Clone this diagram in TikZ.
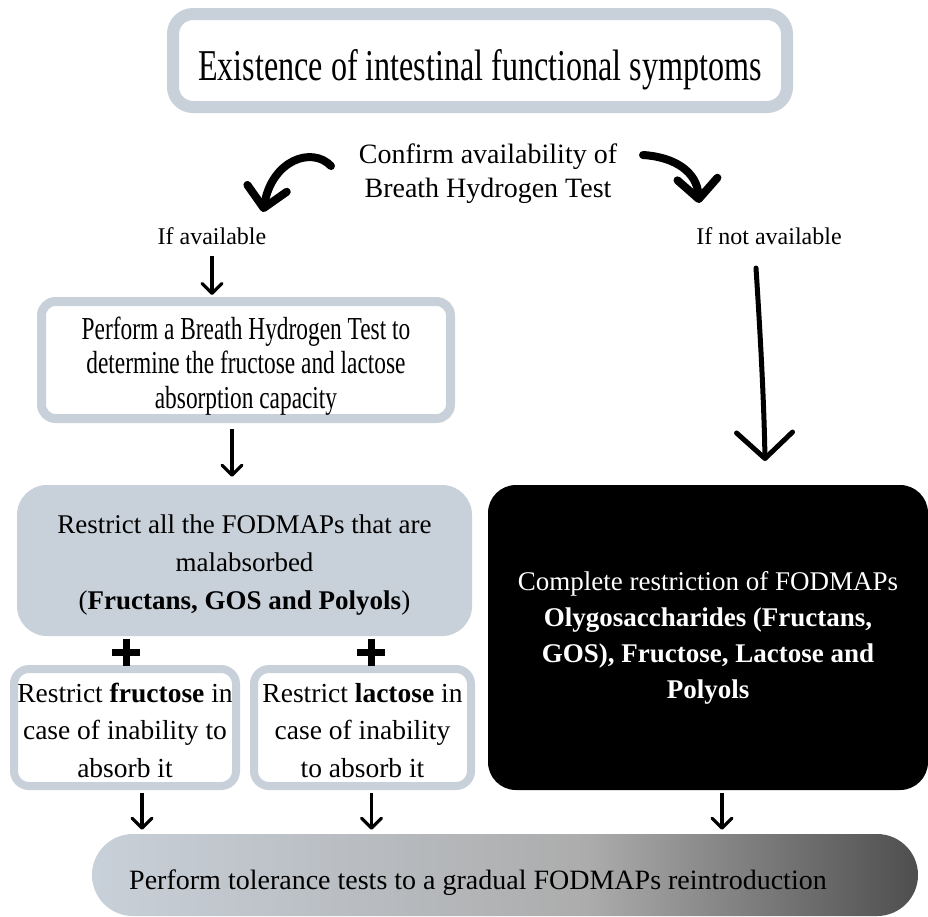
\documentclass[tikz,border=0pt]{standalone}
\usepackage{fontspec}
\setmainfont{Liberation Serif}
\newfontfamily\narrowserif{Liberation Serif}[FakeStretch=0.73]
\usepackage{xcolor}
\usepackage{tikz}
\usetikzlibrary{arrows.meta,positioning,calc}

\definecolor{boxgray}{RGB}{200,208,217}
\definecolor{gradmid}{RGB}{172,172,172}
\definecolor{graddark}{RGB}{78,78,78}
\pgfdeclarehorizontalshading{finalgrad}{100bp}{color(0bp)=(boxgray); color(25bp)=(boxgray); color(55bp)=(gradmid); color(75bp)=(graddark); color(100bp)=(graddark)}

\tikzset{
	outbox/.style={draw=boxgray, line width=8pt, rounded corners=#1, fill=white, align=center},
	thinarrow/.style={line width=3.2pt, -{Straight Barb[length=10pt,width=20pt,round]}},
	curvearrow/.style={line width=8pt, line cap=round, -{Straight Barb[length=20pt,width=40pt,line width=8pt,round]}},
	bigarrow/.style={line width=5pt, line cap=round, -{Straight Barb[length=26pt,width=56pt,line width=5pt,round]}},
	plussign/.style={line width=7pt},
}

\begin{document}
\begin{tikzpicture}[x=1pt,y=-1pt]
	\useasboundingbox (0,0) rectangle (928,916);
	\node[outbox=20, line width=12pt, minimum width=614, minimum height=93, text height=46pt, text depth=7pt, font=\narrowserif\fontsize{44}{50}\selectfont] (top) at (480,60.5) {Existence of intestinal functional symptoms};
	\node[align=center, font=\fontsize{28}{34}\selectfont] (confirm) at (488,174) {Confirm availability of\\Breath Hydrogen Test};
	\node[font=\fontsize{24}{28}\selectfont] (avail) at (212,236) {If available};
	\node[font=\fontsize{24}{28}\selectfont] (notavail) at (769,236) {If not available};
	\node[outbox=14, line width=9pt, minimum width=409, minimum height=117, inner xsep=0, font=\narrowserif\fontsize{32}{34.5}\selectfont] (test) at (246,360) {\rule{0pt}{34pt}Perform a Breath Hydrogen Test to\\determine the fructose and lactose\\absorption capacity};
	\node[fill=boxgray, rounded corners=30, minimum width=455, minimum height=151, align=center, font=\fontsize{27}{38}\selectfont] (restrict) at (244.5,560.5) {\rule{0pt}{28pt}Restrict all the FODMAPs that are\\malabsorbed\\(\textbf{Fructans, GOS and Polyols})};
	\node[outbox=15, minimum width=222, minimum height=117, inner sep=0, font=\fontsize{27.5}{37.5}\selectfont] (fruct) at (125,727.5) {\rule{0pt}{25pt}Restrict \textbf{fructose} in\\case of inability to\\absorb it};
	\node[outbox=15, minimum width=217, minimum height=117, inner sep=0, font=\fontsize{27.5}{37.5}\selectfont] (lact) at (362.5,727.5) {\rule{0pt}{25pt}Restrict \textbf{lactose} in\\case of inability\\to absorb it};
	\node[fill=black, text=white, rounded corners=28, minimum width=440, minimum height=305, align=center, font=\fontsize{27}{36}\selectfont] (full) at (708,637.5) {Complete restriction of FODMAPs\\\textbf{Olygosaccharides (Fructans,}\\\textbf{GOS), Fructose, Lactose and}\\\textbf{Polyols}};
	\node[shade, shading=finalgrad, rounded corners=41, minimum width=826, minimum height=82, inner sep=0] (final) at (505,875) {};
	\node[font=\fontsize{28}{32}\selectfont] (finaltxt) at (478,883) {Perform tolerance tests to a gradual FODMAPs reintroduction};

	\coordinate (plusA) at (126,652);
	\coordinate (plusB) at (371,652);
	\draw[plussign] ($(plusA)+(-14,0)$) -- ++(28,0) ($(plusA)+(0,-13.5)$) -- ++(0,27);
	\draw[plussign] ($(plusB)+(-14,0)$) -- ++(28,0) ($(plusB)+(0,-13.5)$) -- ++(0,27);

	\coordinate (lcs) at (331,166);
	\coordinate (lce) at (263,212);
	\coordinate (rcs) at (643,155);
	\coordinate (rce) at (699,203);
	\coordinate (bigs) at (756,268);
	\coordinate (bige) at (765,461);
	\draw[curvearrow] (lcs) .. controls (312,146) and (272,160) .. (lce);
	\draw[curvearrow] (rcs) .. controls (675,157) and (697,172) .. (rce);
	\draw[bigarrow] (bigs) .. controls (760,330) and (764,400) .. (bige);

	\draw[thinarrow, shorten <=8pt, shorten >=2pt] (avail.south) -- (avail.south |- test.north);
	\draw[thinarrow, shorten <=6pt, shorten >=8pt] ([xshift=-14pt]test.south) -- ([xshift=-14pt]test.south |- restrict.north);
	\draw[thinarrow, shorten <=3pt, shorten >=4pt] ([xshift=17pt]fruct.south) -- ([xshift=17pt]fruct.south |- final.north);
	\draw[thinarrow, shorten <=3pt, shorten >=4pt] ([xshift=9pt]lact.south) -- ([xshift=9pt]lact.south |- final.north);
	\draw[thinarrow, shorten <=3pt, shorten >=4pt] ([xshift=14pt]full.south) -- ([xshift=14pt]full.south |- final.north);
\end{tikzpicture}
\end{document}
